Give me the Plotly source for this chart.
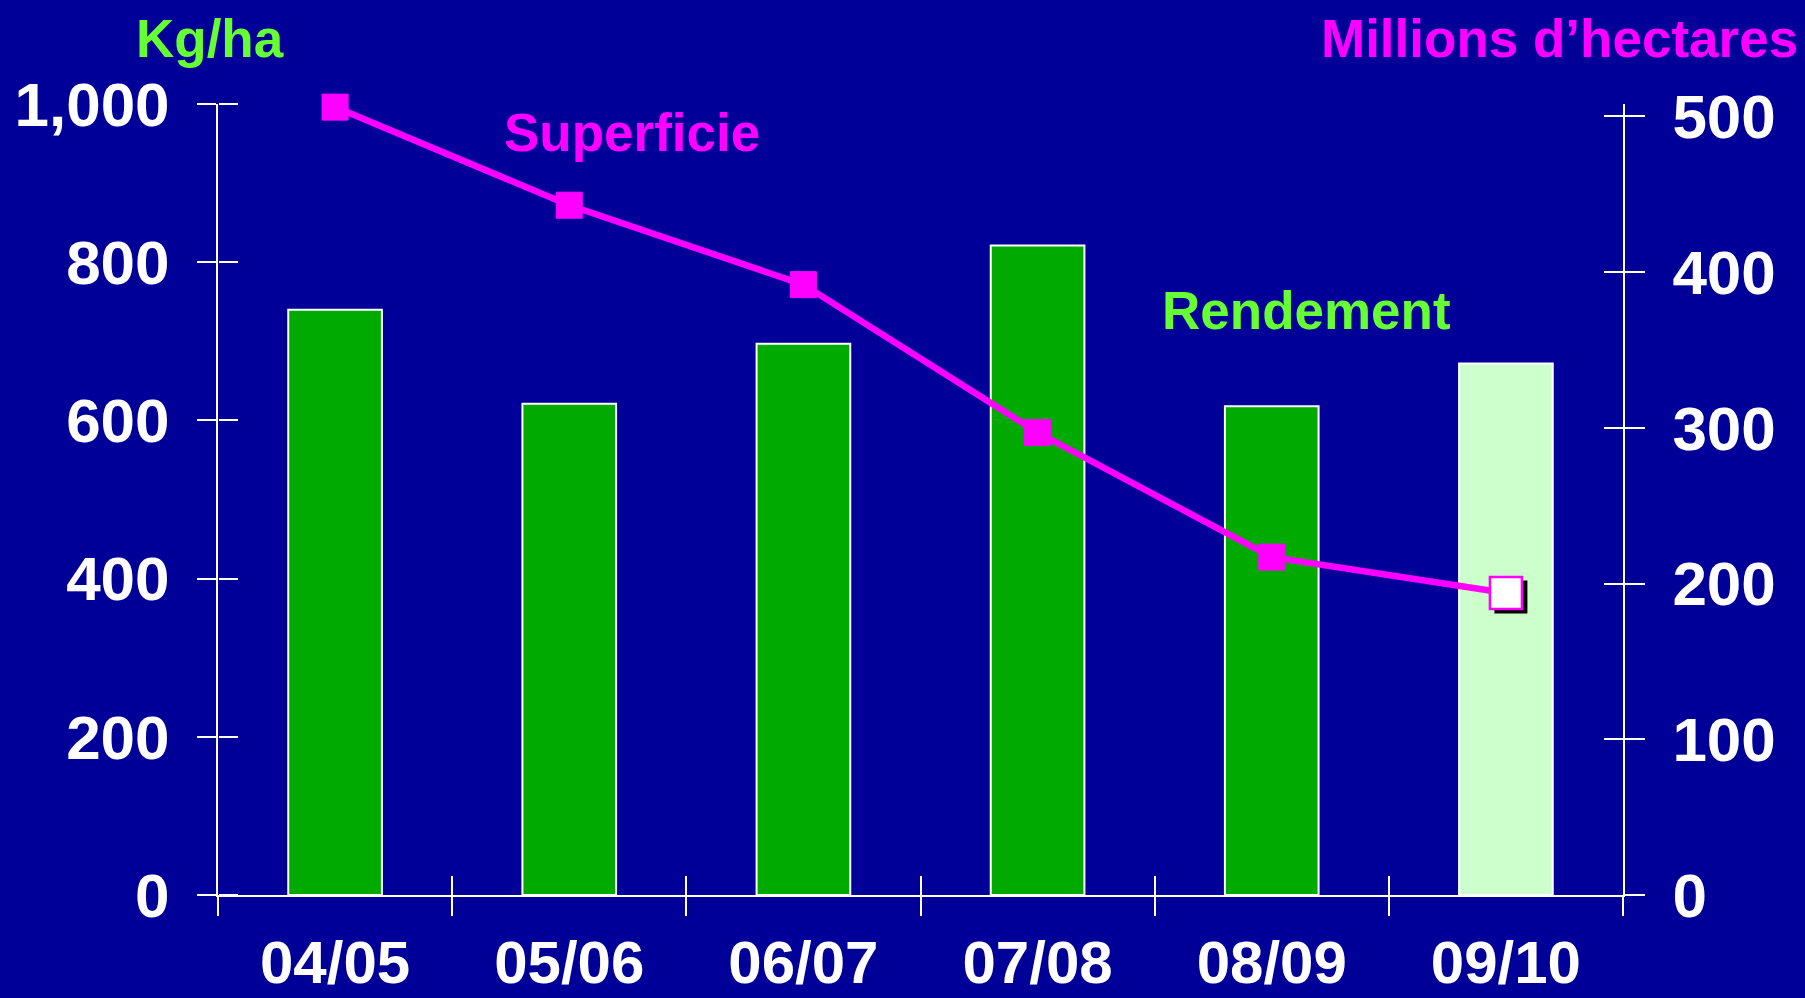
import plotly.graph_objects as go

# ---- data ----
seasons = ["04/05", "05/06", "06/07", "07/08", "08/09", "09/10"]
rendement = [740, 621, 697, 821, 618, 672]          # Kg/ha (left axis, bars)
superficie = [506, 443, 392, 297, 217, 194]         # Millions d'hectares (right axis, line)

left_ticks = [0, 200, 400, 600, 800, 1000]
right_ticks = [0, 100, 200, 300, 400, 500]

# ---- style ----
BG = "#000099"
BAR = "#00AA00"
BAR_LAST = "#CCFFCC"
MAG = "#FF00FF"
GREEN_TXT = "#66FF33"
FONT = "Liberation Sans, Arial, Helvetica, sans-serif"

W, H = 1805, 998
ML, MR, MT, MB = 218, 182, 104, 103
PW, PH = W - ML - MR, H - MT - MB

n = len(seasons)
idx = list(range(n))
xr = [-0.5, n - 0.5]
yl_range = [0, 1000]
yr_range = [0, 508]
bounds = [i - 0.5 for i in range(n + 1)]

# shadow offset for last (estimated) point, in pixels -> data units
px_x = PW / (xr[1] - xr[0])
px_y2 = PH / (yr_range[1] - yr_range[0])
sh_dx, sh_dy = 5 / px_x, 4 / px_y2

fig = go.Figure()

fig.add_trace(go.Bar(
    x=idx, y=rendement,
    marker=dict(color=[BAR] * (n - 1) + [BAR_LAST], line=dict(color="white", width=2)),
    xaxis="x", yaxis="y", showlegend=False, hoverinfo="skip",
))

# shadow under the last marker
fig.add_trace(go.Scatter(
    x=[idx[-1] + sh_dx], y=[superficie[-1] - sh_dy], mode="markers",
    marker=dict(symbol="square", size=33, color="black", opacity=1, line=dict(width=0)),
    xaxis="x", yaxis="y2", showlegend=False, hoverinfo="skip", cliponaxis=False,
))

fig.add_trace(go.Scatter(
    x=idx, y=superficie, mode="lines+markers",
    line=dict(color=MAG, width=6.5),
    marker=dict(symbol="square", size=[26] * (n - 1) + [32], opacity=1,
                color=[MAG] * (n - 1) + ["white"],
                line=dict(color=MAG, width=[1] * (n - 1) + [2.5])),
    xaxis="x", yaxis="y2", showlegend=False, hoverinfo="skip", cliponaxis=False,
))

tickfont = dict(family=FONT, size=62, color="white", weight="bold")
axcommon = dict(showgrid=False, zeroline=False, automargin=False)

fig.update_layout(
    width=W, height=H,
    margin=dict(l=ML, r=MR, t=MT, b=MB, pad=0),
    paper_bgcolor=BG, plot_bgcolor=BG,
    bargap=0.6,
    template="none",
    xaxis=dict(range=xr, tickmode="array", tickvals=idx, ticktext=seasons,
               ticks="", showline=True, linecolor="white", linewidth=2,
               tickfont=dict(family=FONT, size=60, color="white", weight="bold"),
               ticklabelstandoff=14, **axcommon),
    xaxis2=dict(overlaying="x", anchor="y", range=xr, tickmode="array", tickvals=bounds,
                ticks="outside", ticklen=20, tickwidth=2, tickcolor="white",
                showticklabels=False, showline=False, **axcommon),
    xaxis3=dict(overlaying="x", anchor="y", range=xr, tickmode="array", tickvals=bounds,
                ticks="inside", ticklen=19, tickwidth=2, tickcolor="white",
                showticklabels=False, showline=False, **axcommon),
    # left axis: labels + outside ticks
    yaxis=dict(range=yl_range, tickmode="array", tickvals=left_ticks, tickformat=",",
               ticks="outside", ticklen=19, tickwidth=2, tickcolor="white",
               showline=True, linecolor="white", linewidth=2,
               tickfont=tickfont, ticklabelstandoff=15, **axcommon),
    yaxis2=dict(overlaying="y", side="right", anchor="x", range=yr_range,
                tickmode="array", tickvals=right_ticks,
                ticks="outside", ticklen=20, tickwidth=2, tickcolor="white",
                showline=True, linecolor="white", linewidth=2,
                tickfont=tickfont, ticklabelstandoff=15, **axcommon),
    # left axis inner half of the crossing ticks: a right-sided axis placed at the left edge
    yaxis3=dict(overlaying="y", side="right", anchor="free", position=0, range=yl_range,
                tickmode="array", tickvals=left_ticks,
                ticks="outside", ticklen=19, tickwidth=2, tickcolor="white",
                showticklabels=False, showline=False, **axcommon),
    yaxis4=dict(overlaying="y", side="right", anchor="x", range=yr_range,
                tickmode="array", tickvals=right_ticks,
                ticks="inside", ticklen=19, tickwidth=2, tickcolor="white",
                showticklabels=False, showline=False, **axcommon),
)

# dummy empty traces so overlay axes are instantiated
for xa, ya in [("x2", "y"), ("x3", "y"), ("x", "y3"), ("x", "y4")]:
    fig.add_trace(go.Scatter(x=[], y=[], xaxis=xa, yaxis=ya, showlegend=False, hoverinfo="skip"))


def px2x(px):
    return (px - ML) / PW


def py2y(py):
    return (H - MB - py) / PH


def ann(text, px, py, color, xanchor="center", size=53):
    fig.add_annotation(text=text, x=px2x(px), y=py2y(py), xref="paper", yref="paper",
                       xanchor=xanchor, yanchor="middle", showarrow=False,
                       font=dict(family=FONT, size=size, color=color, weight="bold"))


ann("Kg/ha", 210, 38, GREEN_TXT)
ann("Millions d\u2019hectares", 1800, 38, MAG, xanchor="right")
ann("Superficie", 632, 132, MAG)
ann("Rendement", 1306, 310, GREEN_TXT)

fig.write_html(
    "out.html",
    config={"displayModeBar": False},
    post_script="document.body.style.margin='0px';document.body.style.overflow='hidden';",
)
